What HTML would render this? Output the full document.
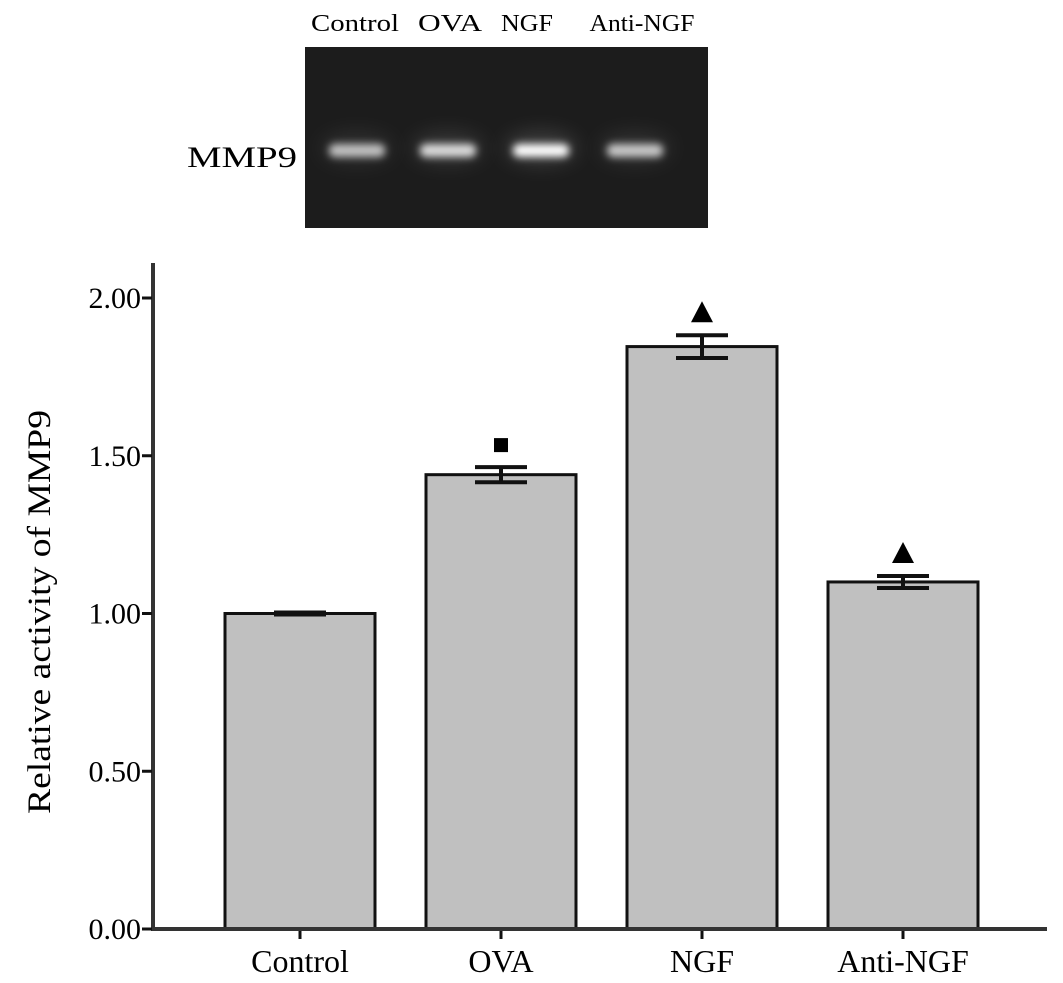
<!DOCTYPE html>
<html><head><meta charset="utf-8"><style>
html,body{margin:0;padding:0;background:#fff;}
svg{display:block;font-family:"Liberation Serif",serif;}
</style></head><body>
<svg id="chart" width="1063" height="983" viewBox="0 0 1063 983">
<defs>
<filter id="blur" x="-30%" y="-100%" width="160%" height="300%"><feGaussianBlur stdDeviation="4"/></filter>
<filter id="blur2" x="-30%" y="-200%" width="160%" height="500%"><feGaussianBlur stdDeviation="10"/></filter>
</defs>
<g>
<rect x="305" y="47" width="403" height="181" fill="#1c1c1c"/>
<g id="gel-bands"></g>
<g id="gel-labels"></g>
<text x="187" y="167" font-size="30" fill="#000" textLength="110" lengthAdjust="spacingAndGlyphs">MMP9</text>
</g>
<g id="plot"></g>
<text transform="translate(50,612) rotate(-90)" text-anchor="middle" font-size="33" fill="#000" textLength="404" lengthAdjust="spacingAndGlyphs">Relative activity of MMP9</text>
</svg>
<script>
const categories = ["Control","OVA","NGF","Anti-NGF"];
const values = [1.00, 1.44, 1.846, 1.10];
const errors = [0.003, 0.024, 0.036, 0.019];
const markers = ["", "square", "triangle", "triangle"];
const yTicks = [0, 0.5, 1.0, 1.5, 2.0];
const yTickLabels = ["0.00","0.50","1.00","1.50","2.00"];
const gelIntensity = [0.55, 0.75, 1.0, 0.6];

const NS = "http://www.w3.org/2000/svg";
function mk(tag, attrs, parent){const e=document.createElementNS(NS,tag);for(const k in attrs)e.setAttribute(k,attrs[k]);parent.appendChild(e);return e;}
const y0 = 929, pxPerUnit = 315.5;
function yScale(v){return y0 - v*pxPerUnit;}
const xStart = 300, xStep = 201;
function xScale(i){return xStart + i*xStep;}
const barW = 150;
const plot = document.getElementById('plot');

categories.forEach((c,i)=>{
  const cx = xScale(i), top = yScale(values[i]);
  const r = mk('rect',{x:cx-barW/2,y:top,width:barW,height:y0-top,fill:'#c0c0c0',stroke:'#111','stroke-width':3},plot);
  
  
  const eh = yScale(values[i]+errors[i]), el = yScale(values[i]-errors[i]);
  const g = mk('g',{stroke:'#111','stroke-width':4},plot);
  
  
  mk('line',{x1:cx,x2:cx,y1:eh,y2:el},g);
  mk('line',{x1:cx-26,x2:cx+26,y1:eh,y2:eh},g);
  mk('line',{x1:cx-26,x2:cx+26,y1:el,y2:el},g);
  const my = eh - 22;
  if(markers[i]==='square'){
    const m = mk('rect',{x:cx-7,y:my-7,width:14,height:14,fill:'#000'},plot);
    
    
  } else if(markers[i]==='triangle'){
    const m = mk('polygon',{points:`${cx},${my-12} ${cx-11},${my+9} ${cx+11},${my+9}`,fill:'#000'},plot);
    
    
  }
  const t = mk('line',{x1:cx,x2:cx,y1:y0,y2:y0+10,stroke:'#111','stroke-width':3},plot);
  
  
  const lb = mk('text',{x:cx,y:y0+43,'text-anchor':'middle','font-size':32,fill:'#000'},plot);
  lb.textContent = c;
  
  
});
const xa = mk('line',{x1:152,x2:1047,y1:y0,y2:y0,stroke:'#333','stroke-width':4},plot);


const ya = mk('line',{x1:153,x2:153,y1:263,y2:y0+2,stroke:'#333','stroke-width':4},plot);


yTicks.forEach((v,i)=>{
  const y = yScale(v);
  const t = mk('line',{x1:142,x2:152,y1:y,y2:y,stroke:'#111','stroke-width':3},plot);
  
  
  const lb = mk('text',{x:141,y:y+10,'text-anchor':'end','font-size':30,fill:'#000'},plot);
  lb.textContent = yTickLabels[i];
  
  
});
const gb = document.getElementById('gel-bands'), gl = document.getElementById('gel-labels');
const laneX = [357, 448, 541, 635];
const labelX = [355, 450, 527, 642];
const labelW = [88, 64, 52, 105];
categories.forEach((c,i)=>{
  const a = gelIntensity[i];
  const glow = mk('ellipse',{cx:laneX[i],cy:148,rx:36,ry:16,fill:'#fff',opacity:a*0.15,filter:'url(#blur2)'},gb);
  
  
  const b = mk('rect',{x:laneX[i]-28,y:144,width:56,height:13,rx:6,fill:`rgb(${Math.round(120+135*a)},${Math.round(120+135*a)},${Math.round(120+135*a)})`,filter:'url(#blur)'},gb);
  
  
  const t = mk('text',{x:labelX[i],y:31,'text-anchor':'middle','font-size':24,fill:'#000',textLength:labelW[i],lengthAdjust:'spacingAndGlyphs'},gl);
  t.textContent = c;
  
  
});
</script>
</body></html>
